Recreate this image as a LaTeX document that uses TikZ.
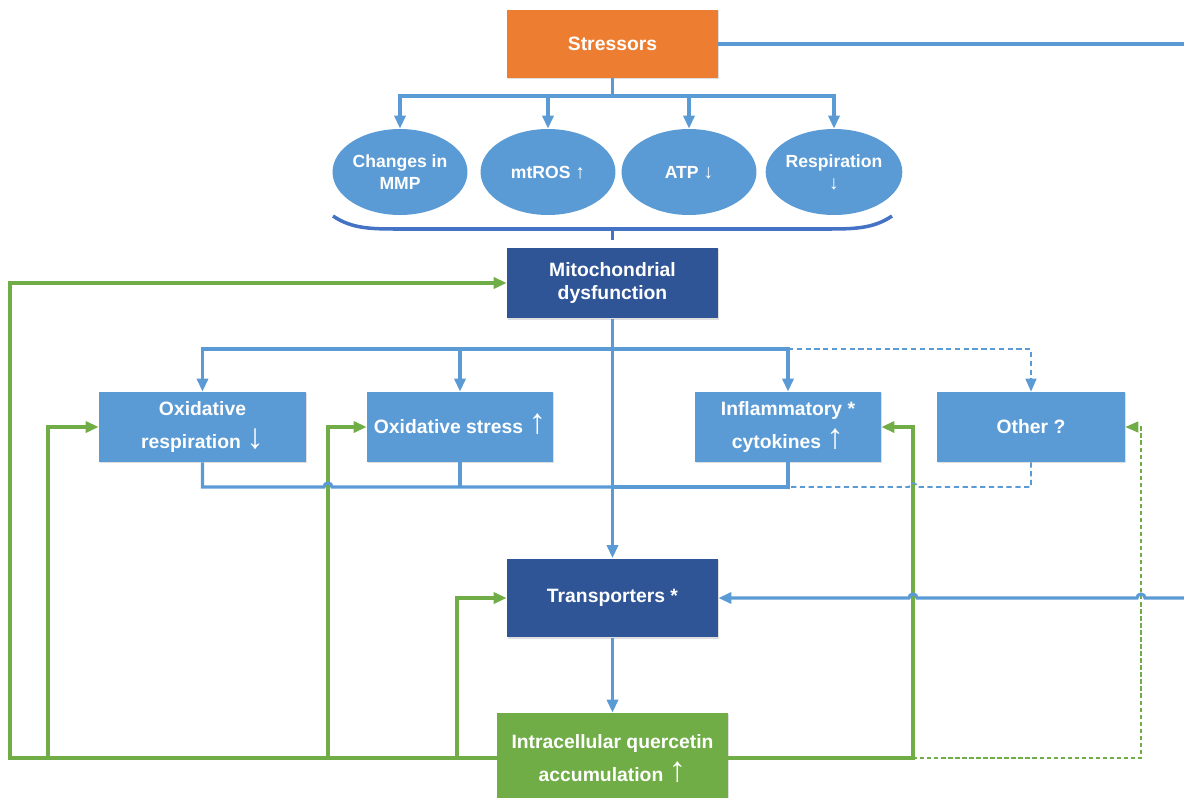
\documentclass[tikz,border=0pt]{standalone}
\usepackage{fontspec}
\setmainfont{Liberation Sans}
\usetikzlibrary{arrows.meta,shapes.geometric,shadows}

\definecolor{stressorange}{HTML}{ED7D31}
\definecolor{lightblue}{HTML}{5B9BD5}
\definecolor{darkblue}{HTML}{2F5597}
\definecolor{bracecol}{HTML}{4472C4}
\definecolor{leafgreen}{HTML}{70AD47}

% thin arrows set in a bigger size, kept out of the line spacing
\newcommand{\uparr}[1][20]{\smash{\fontsize{#1}{#1}\selectfont\mdseries ↑}}
\newcommand{\dnarr}[1][20]{\smash{\fontsize{#1}{#1}\selectfont\mdseries ↓}}

\begin{document}
\begin{tikzpicture}[
      x=0.02cm, y=-0.02cm,
      >={Triangle[length=0.26cm,width=0.22cm]},
      main box/.style={align=center, text=white, inner sep=2pt,
        font=\fontsize{11}{13}\selectfont\bfseries,
        drop shadow={shadow xshift=0.6pt, shadow yshift=-0.8pt, opacity=0.25}},
      orange box/.style={main box, fill=stressorange, minimum width=4.22cm, minimum height=1.36cm},
      dark box/.style={main box, fill=darkblue, minimum width=4.22cm},
      light box/.style={main box, fill=lightblue, minimum height=1.4cm},
      green box/.style={main box, fill=leafgreen, minimum width=4.62cm, minimum height=1.8cm},
      oval/.style={ellipse, fill=lightblue, text=white, align=center, inner sep=0pt,
        minimum width=2.7cm, minimum height=1.72cm,
        font=\fontsize{10}{12.5}\selectfont\bfseries},
      blue line/.style={draw=lightblue, line width=1.8pt},
      blue dash/.style={draw=lightblue, line width=0.9pt, dash pattern=on 3pt off 2pt},
      green line/.style={draw=leafgreen, line width=1.8pt},
      green dash/.style={draw=leafgreen, line width=0.8pt, dash pattern=on 2.5pt off 1.5pt},
      hop/.style={radius=0.08cm}
    ]
    \useasboundingbox (0,0) rectangle (1184,798);

    % Stressor and its effects
    \node (stress) [orange box] at (612.5,44) {Stressors};
    \node (mmp) [oval] at (400,172) {Changes in\\MMP};
    \node (ros) [oval] at (548,172) {mtROS \uparr[11]};
    \node (atp) [oval] at (689,172) {ATP \dnarr[11]};
    \node (resp) [oval] at (834,172) {Respiration\\\dnarr[11]};

    % Mitochondria and the processes below
    \node (mito) [dark box, minimum height=1.42cm] at (612.5,283) {Mitochondrial\\dysfunction};
    \node (oresp) [light box, minimum width=4.14cm] at (202.5,427) {Oxidative\\[5.7pt]respiration \dnarr};
    \node (ostress) [light box, minimum width=3.72cm] at (460,427) {Oxidative stress \uparr};
    \node (infl) [light box, minimum width=3.72cm] at (788,427) {Inflammatory *\\[5.7pt]cytokines \uparr};
    \node (other) [light box, minimum width=3.76cm] at (1031,427) {Other ?};
    \node (trans) [dark box, minimum height=1.58cm] at (612.5,598) {Transporters *};
    \node (iqa) [green box] at (612.5,758) {Intracellular quercetin\\[5.7pt]accumulation \uparr};

    \coordinate (sbus) at (612.5,96);
    \coordinate (mbus) at (612.5,349);
    \coordinate (cbus) at (612.5,487);
    \coordinate (rout) at (1190,44);
    \coordinate (rin) at (1190,598);
    \coordinate (rjoin) at (913,758);

    % Brace under the effects
    \draw[draw=bracecol, line width=2pt] (333,216) .. controls (352,229) and (372,229) .. (400,229)
      -- (825,229) .. controls (853,229) and (873,229) .. (892,216);
    \draw[draw=bracecol, line width=2pt] (612.5,229) -- (612.5,240);

    % Feedback of quercetin
    \draw[green line,->] (iqa.west) -| (10,283) -- (mito);
    \draw[green line,->] (iqa.west) -| (48,427) -- (oresp);
    \draw[green line,->] (iqa.west) -| (328,427) -- (ostress);
    \draw[green line,->] (iqa.west) -| (457,598) -- (trans);
    \draw[green line,->] (iqa.east) -- (rjoin) |- (infl);
    \draw[green dash,->] (rjoin) -| (1141,427) -- (other);

    % Stressors to effects
    \draw[blue line] (stress) -- (sbus);
    \draw[blue line,->] (sbus) -| (mmp);
    \draw[blue line,->] (sbus) -| (ros);
    \draw[blue line,->] (sbus) -| (atp);
    \draw[blue line,->] (sbus) -| (resp);
    \draw[blue line] (stress) -- (rout);

    % Mitochondria to processes
    \draw[blue line,->] (mito) -- (trans);
    \draw[blue line,->] (mbus) -| (oresp);
    \draw[blue line,->] (mbus) -| (ostress);
    \draw[blue line,->] (mbus) -| (infl);
    \draw[blue dash,->] (infl.north |- mbus) -| (other);

    % Processes back to the transporters
    \draw[blue line] (oresp) |- (324,487) arc[start angle=180, end angle=0, hop] -- (cbus);
    \draw[blue line] (ostress) -- (ostress |- cbus);
    \draw[blue line] (infl) |- (cbus);
    \draw[blue dash] (other) |- (917,487) arc[start angle=0, end angle=180, hop] -- (infl |- cbus);
    \draw[blue line,->] (rin) -- (1145,598) arc[start angle=0, end angle=180, hop]
      -- (917,598) arc[start angle=0, end angle=180, hop] -- (trans);

    \draw[blue line,->] (trans) -- (iqa);
  \end{tikzpicture}
\end{document}
